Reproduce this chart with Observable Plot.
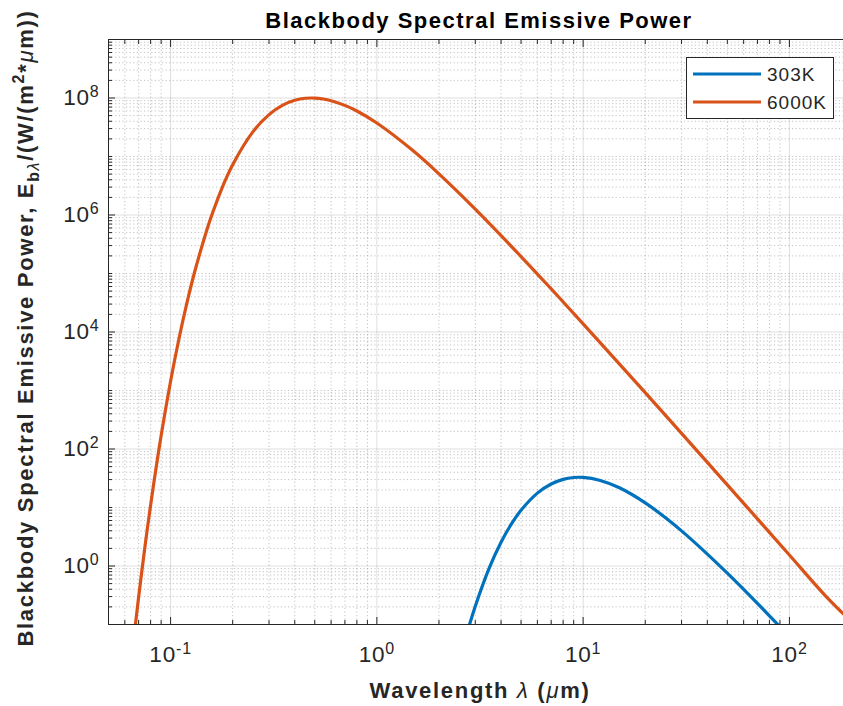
<!DOCTYPE html>
<html><head><meta charset="utf-8">
<script src="https://cdn.jsdelivr.net/npm/d3@7"></script>
<script src="https://cdn.jsdelivr.net/npm/@observablehq/plot@0.6"></script>
<style>
body{margin:0;background:#fff;}
#chart{position:relative;width:843px;height:706px;overflow:hidden;}
</style></head><body><div id="chart"></div>
<script>
// ---- data ----
const seriesNames = ["303K", "6000K"];
const seriesColors = ["#0072BD", "#D95319"];

const wavelength303 = [2.5, 2.8, 3, 3.5, 4, 4.5, 5, 6, 7, 8, 9, 10, 12, 15, 20, 25, 30, 40, 50, 60, 80, 100];
const power303 = [0.0216, 0.094, 0.206, 0.914, 2.55, 5.30, 8.98, 17.6, 25.2, 30.3, 32.6, 32.7, 29.3, 21.7, 12.0, 6.74, 3.98, 1.60, 0.755, 0.399, 0.141, 0.0616];

const wavelength6000 = [0.066, 0.07, 0.075, 0.08, 0.09, 0.1, 0.11, 0.12, 0.13, 0.15, 0.16, 0.18, 0.2, 0.25, 0.3, 0.35, 0.4, 0.45, 0.5, 0.55, 0.6, 0.7, 0.8, 1, 1.5, 2, 3, 5, 7, 10, 20, 30, 50, 70, 100, 150, 200];
const power6000 = [0.050, 0.295, 2.05, 10.96, 170, 1443, 7.9e3, 3.15e4, 9.8e4, 5.6e5, 1.1e6, 3.25e6, 7.26e6, 2.61e7, 5.2e7, 7.54e7, 9.12e7, 9.89e7, 9.98e7, 9.62e7, 9.0e7, 7.48e7, 6.0e7, 3.74e7, 1.25e7, 5.05e6, 1.26e6, 1.95e5, 5.45e4, 1.38e4, 918, 185, 24.4, 6.39, 1.54, 0.306, 0.111];

const xDomain = [0.05, 200];
const yDomain = [0.1, 1e9];
const xMajorTicks = [0.1, 1, 10, 100];
const yMajorTicks = [1, 100, 1e4, 1e6, 1e8];
const xTickLabels = ["10^-1", "10^0", "10^1", "10^2"];
const yTickLabels = ["10^0", "10^2", "10^4", "10^6", "10^8"];

// minor ticks (every d*10^k inside the domain)
function minorTicks(dom, majors) {
  const out = [];
  for (let k = -3; k <= 10; k++) for (let d = 1; d <= 9; d++) {
    const v = +(d * Math.pow(10, k)).toPrecision(6);
    if (v >= dom[0] * 0.999 && v <= dom[1] * 1.001 && !majors.some(m => Math.abs(m - v) / m < 1e-6)) out.push(v);
  }
  return out;
}
const xMinorTicks = minorTicks(xDomain, xMajorTicks);
const yMinorTicks = minorTicks(yDomain, yMajorTicks);

const rows = [
  ...wavelength303.map((w, i) => ({series: seriesNames[0], wavelength: w, power: power303[i]})),
  ...wavelength6000.map((w, i) => ({series: seriesNames[1], wavelength: w, power: power6000[i]}))
];

const axisColor = "#262626";
const fmtX = d => xTickLabels[xMajorTicks.indexOf(d)];
const fmtY = d => yTickLabels[yMajorTicks.indexOf(d)];

const plot = Plot.plot({
  width: 843, height: 706,
  marginLeft: 108, marginRight: -8, marginTop: 39, marginBottom: 82,
  style: {fontFamily: "'Liberation Sans', Arial, sans-serif", fontSize: "19px", color: axisColor, background: "#fff", overflow: "visible"},
  x: {type: "log", domain: xDomain},
  y: {type: "log", domain: yDomain},
  color: {domain: seriesNames, range: seriesColors},
  marks: [
    Plot.gridX(xMinorTicks, {stroke: axisColor, strokeOpacity: 0.28, strokeDasharray: "1.2,2.4"}),
    Plot.gridY(yMinorTicks, {stroke: axisColor, strokeOpacity: 0.28, strokeDasharray: "1.2,2.4"}),
    Plot.gridX(xMajorTicks, {stroke: axisColor, strokeOpacity: 0.15}),
    Plot.gridY(yMajorTicks, {stroke: axisColor, strokeOpacity: 0.15}),
    Plot.line(rows, {x: "wavelength", y: "power", stroke: "series", strokeWidth: 3.2, curve: "catmull-rom", clip: true}),
    Plot.frame({stroke: axisColor, strokeWidth: 1}),
    // tick labels
    Plot.axisX(xMajorTicks, {anchor: "bottom", tickSize: 0, tickPadding: 22, tickFormat: fmtX, label: null, fill: axisColor}),
    Plot.axisY(yMajorTicks, {anchor: "left", tickSize: 0, tickPadding: 9, tickFormat: fmtY, label: null, fill: axisColor}),
    // inward ticks
    Plot.axisX(xMajorTicks, {anchor: "bottom", tickSize: -7, tickFormat: () => "", label: null, stroke: axisColor}),
    Plot.axisX(xMinorTicks, {anchor: "bottom", tickSize: -4, tickFormat: () => "", label: null, stroke: axisColor}),
    Plot.axisX(xMajorTicks, {anchor: "top", tickSize: -7, tickFormat: () => "", label: null, stroke: axisColor}),
    Plot.axisX(xMinorTicks, {anchor: "top", tickSize: -4, tickFormat: () => "", label: null, stroke: axisColor}),
    Plot.axisY(yMajorTicks, {anchor: "left", tickSize: -7, tickFormat: () => "", label: null, stroke: axisColor}),
    Plot.axisY(yMinorTicks, {anchor: "left", tickSize: -4, tickFormat: () => "", label: null, stroke: axisColor})
  ]
});
document.getElementById("chart").appendChild(plot);

const svg = d3.select(plot);
svg.selectAll("text").each(function() {
  const t = this.textContent;
  if (t && t.includes("^")) {
    const [base, exp] = t.split("^");
    const sel = d3.select(this);
    sel.text("");
    sel.style("font-size", "22.5px").attr("letter-spacing", "0.8px");
    sel.append("tspan").text(base);
    sel.append("tspan").attr("dy", "-0.5em").style("font-size", "16px").text(exp);
  }
});

// title
svg.append("text").attr("x", 479).attr("y", 28).attr("text-anchor", "middle")
  .attr("font-weight", "bold").attr("font-size", 22).attr("letter-spacing", "1.5px").attr("fill", "#000")
  .text("Blackbody Spectral Emissive Power");

// x label
const xl = svg.append("text").attr("x", 480).attr("y", 698).attr("text-anchor", "middle")
  .attr("font-weight", "bold").attr("font-size", 22).attr("letter-spacing", "1.7px").attr("fill", axisColor);
xl.append("tspan").text("Wavelength ");
xl.append("tspan").attr("font-style", "italic").attr("font-weight", "normal").text("λ");
xl.append("tspan").text(" (");
xl.append("tspan").attr("font-style", "italic").attr("font-weight", "normal").text("μ");
xl.append("tspan").text("m)");

// y label
const yl = svg.append("text").attr("transform", "translate(33,328) rotate(-90)").attr("text-anchor", "middle")
  .attr("font-weight", "bold").attr("font-size", 22).attr("letter-spacing", "1.7px").attr("fill", axisColor);
yl.append("tspan").text("Blackbody Spectral Emissive Power, E");
yl.append("tspan").attr("dy", 6).attr("font-size", 16).text("b");
yl.append("tspan").attr("font-size", 16).attr("font-style", "italic").attr("font-weight", "normal").text("λ");
yl.append("tspan").attr("dy", -6).text("/(W/(m");
yl.append("tspan").attr("dy", -9).attr("font-size", 16).text("2");
yl.append("tspan").attr("dy", 9).text("*");
yl.append("tspan").attr("font-style", "italic").attr("font-weight", "normal").text("μ");
yl.append("tspan").text("m))");

// legend
const lg = svg.append("g");
lg.append("rect").attr("x", 686.5).attr("y", 57.5).attr("width", 147).attr("height", 61)
  .attr("fill", "#fff").attr("stroke", axisColor).attr("stroke-width", 1);
seriesNames.forEach((name, i) => {
  const y = 74 + i * 28;
  lg.append("line").attr("x1", 693).attr("x2", 761).attr("y1", y).attr("y2", y)
    .attr("stroke", seriesColors[i]).attr("stroke-width", 3);
  lg.append("text").attr("x", 767).attr("y", y).attr("dy", "0.35em").attr("text-anchor", "start")
    .attr("font-size", 19).attr("letter-spacing", "1px").attr("fill", axisColor).text(name);
});
</script>
</body></html>
